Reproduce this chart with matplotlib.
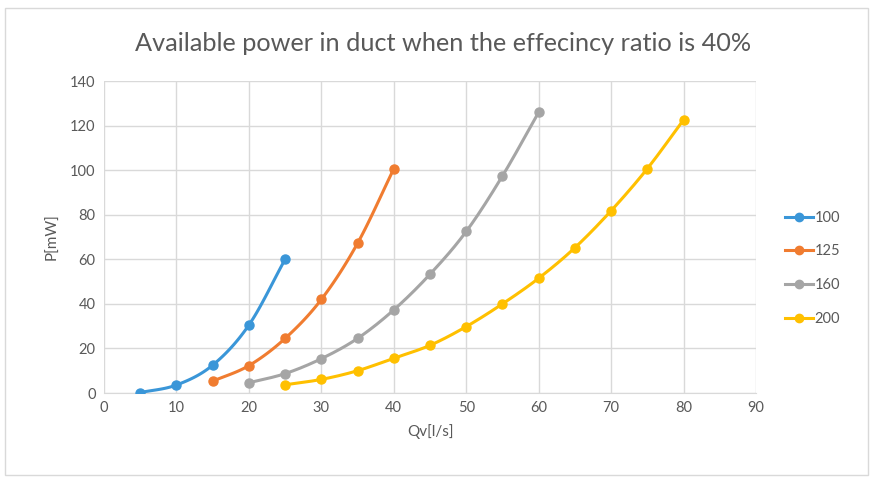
import numpy as np
import matplotlib
matplotlib.use("Agg")
import matplotlib.pyplot as plt
from matplotlib.patches import Rectangle

plt.rcParams['font.family'] = ['Lato', 'DejaVu Sans']

# data
series_names = ["100", "125", "160", "200"]
qv_100 = [5, 10, 15, 20, 25]
p_100 = [0.2, 3.6, 12.5, 30.5, 60.0]
qv_125 = [15, 20, 25, 30, 35, 40]
p_125 = [5.3, 12.3, 24.5, 42.0, 67.2, 100.6]
qv_160 = [20, 25, 30, 35, 40, 45, 50, 55, 60]
p_160 = [4.6, 8.7, 15.4, 24.5, 37.3, 53.3, 72.5, 97.4, 126.0]
qv_200 = [25, 30, 35, 40, 45, 50, 55, 60, 65, 70, 75, 80]
p_200 = [3.7, 6.1, 10.0, 15.6, 21.4, 29.8, 40.0, 51.5, 65.2, 81.8, 100.7, 122.6]

colors = ["#3A96D8", "#F07C30", "#A5A5A5", "#FFC000"]


def smooth(x, y, n=20):
    # Catmull-Rom curve through the points (like Excel's smoothed line)
    x = np.asarray(x, float)
    y = np.asarray(y, float)
    px = np.concatenate([[2 * x[0] - x[1]], x, [2 * x[-1] - x[-2]]])
    py = np.concatenate([[2 * y[0] - y[1]], y, [2 * y[-1] - y[-2]]])
    t = np.linspace(0, 1, n)
    xs, ys = [], []
    for i in range(1, len(px) - 2):
        for arr, out in ((px, xs), (py, ys)):
            p0, p1, p2, p3 = arr[i - 1], arr[i], arr[i + 1], arr[i + 2]
            out.extend(0.5 * (2 * p1 + (-p0 + p2) * t
                              + (2 * p0 - 5 * p1 + 4 * p2 - p3) * t ** 2
                              + (-p0 + 3 * p1 - 3 * p2 + p3) * t ** 3))
    return xs, ys


fig = plt.figure(figsize=(8.71, 4.78), dpi=100)
fig.patches.append(Rectangle((0.006, 0.006), 0.99, 0.978, transform=fig.transFigure,
                             fill=False, edgecolor="#D9D9D9", linewidth=1))
ax = fig.add_axes([0.1194, 0.1778, 0.7486, 0.6527])

data = [(qv_100, p_100), (qv_125, p_125), (qv_160, p_160), (qv_200, p_200)]
for (qx, py), name, c in zip(data, series_names, colors):
    sx, sy = smooth(qx, py)
    ax.plot(sx, sy, color=c, linewidth=2.2, zorder=3)
    ax.plot(qx, py, "o", color=c, markersize=6.5, zorder=4)
    ax.plot([], [], "-o", color=c, linewidth=2.2, markersize=6, label=name)

ax.set_xlim(0, 90)
ax.set_ylim(0, 140)
ax.set_xticks(np.arange(0, 91, 10))
ax.set_yticks(np.arange(0, 141, 20))
ax.grid(True, color="#D9D9D9", linewidth=1)
ax.set_axisbelow(True)
for s in ["top", "right", "left"]:
    ax.spines[s].set_visible(False)
ax.spines["bottom"].set_color("#D9D9D9")
ax.tick_params(length=0, labelsize=10.5, colors="#595959", pad=6)

ax.set_xlabel("Qv[l/s]", fontsize=11, color="#595959", labelpad=6)
ax.set_ylabel("P[mW]", fontsize=11, color="#595959", labelpad=8)
fig.text(0.509, 0.91, "Available power in duct when the effecincy ratio is 40%",
         ha="center", va="center", fontsize=18.2, color="#595959")

leg = ax.legend(loc="center left", bbox_to_anchor=(1.025, 0.40), frameon=False,
                fontsize=10.5, handlelength=1.9, labelspacing=1.35, handletextpad=0.1)
for t in leg.get_texts():
    t.set_color("#595959")

fig.savefig("out.png", dpi=100)
